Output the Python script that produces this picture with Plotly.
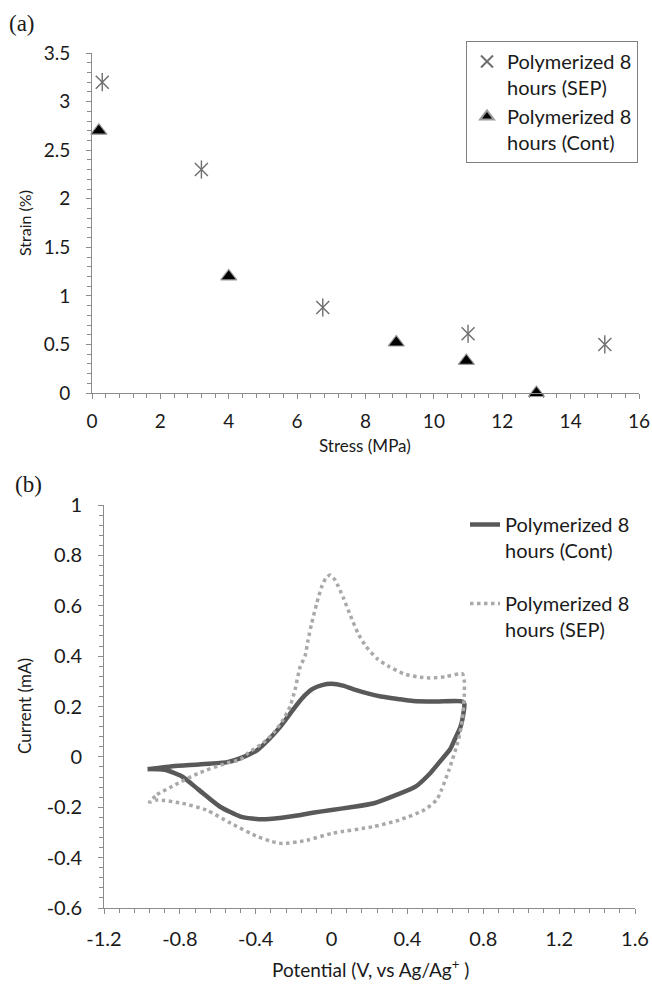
import plotly.graph_objects as go

# ---------------- data ----------------
# (a) stress-strain
sep_stress = [0.3, 3.2, 6.75, 11.0, 15.0]
sep_strain = [3.2, 2.3, 0.88, 0.61, 0.5]
cont_stress = [0.2, 4.0, 8.9, 10.95, 13.0]
cont_strain = [2.7, 1.2, 0.52, 0.33, 0.0]

# (b) cyclic voltammetry
cont_potential = [-0.97, -0.84, -0.70, -0.55, -0.48, -0.39, -0.33, -0.27, -0.22, -0.18,
                  -0.14, -0.10, -0.05, 0.0, 0.06, 0.13, 0.20, 0.26, 0.35, 0.43,
                  0.55, 0.69, 0.70, 0.69, 0.68, 0.65, 0.625, 0.58, 0.52, 0.445,
                  0.345, 0.224, 0.10, 0.0, -0.10, -0.217, -0.35, -0.42, -0.48, -0.59,
                  -0.70, -0.79, -0.88, -0.97]
cont_current = [-0.050, -0.037, -0.030, -0.021, -0.005, 0.028, 0.070, 0.120, 0.170, 0.210,
                0.245, 0.270, 0.285, 0.290, 0.283, 0.265, 0.250, 0.240, 0.230, 0.222,
                0.220, 0.220, 0.210, 0.150, 0.120, 0.070, 0.030, -0.011, -0.065, -0.117,
                -0.150, -0.184, -0.200, -0.211, -0.222, -0.237, -0.248, -0.245, -0.237, -0.197,
                -0.131, -0.077, -0.051, -0.048]

sep_potential = [-0.96, -0.92, -0.84, -0.70, -0.55, -0.48, -0.44, -0.36, -0.30, -0.256,
                 -0.219, -0.193, -0.166, -0.14, -0.124, -0.105, -0.078, -0.052, -0.03, -0.008,
                 0.02, 0.06, 0.10, 0.14, 0.18, 0.24, 0.30, 0.38, 0.45, 0.52,
                 0.60, 0.69, 0.70, 0.70, 0.69, 0.67, 0.62, 0.58, 0.555, 0.49,
                 0.36, 0.22, 0.0, -0.13, -0.26, -0.32, -0.39, -0.53, -0.66, -0.79,
                 -0.92, -0.96]
sep_current = [-0.180, -0.150, -0.117, -0.064, -0.024, -0.010, 0.016, 0.056, 0.100, 0.147,
               0.200, 0.266, 0.357, 0.400, 0.464, 0.530, 0.610, 0.676, 0.710, 0.722,
               0.700, 0.635, 0.560, 0.490, 0.440, 0.390, 0.360, 0.330, 0.318, 0.313,
               0.318, 0.330, 0.300, 0.250, 0.150, 0.070, -0.050, -0.130, -0.170, -0.210,
               -0.250, -0.277, -0.304, -0.331, -0.344, -0.335, -0.317, -0.264, -0.211, -0.184,
               -0.171, -0.180]

# tick labels (hyphen minus as in the original)
pot_ticks = [-1.2, -0.8, -0.4, 0, 0.4, 0.8, 1.2, 1.6]
pot_labels = ["-1.2", "-0.8", "-0.4", "0", "0.4", "0.8", "1.2", "1.6"]
cur_ticks = [-0.6, -0.4, -0.2, 0, 0.2, 0.4, 0.6, 0.8, 1.0]
cur_labels = ["-0.6", "-0.4", "-0.2", "0", "0.2", "0.4", "0.6", "0.8", "1"]

name_sep = "Polymerized 8<br>hours (SEP)"
name_cont = "Polymerized 8<br>hours (Cont)"

# ---------------- layout geometry ----------------
W, H = 652, 987
def px_x(p):
    return p / W
def px_y(p):
    return 1 - p / H

FONT = "Lato, 'Open Sans', sans-serif"
AXIS_COL = "#8c8c8c"
TXT = "#1a1a1a"
SEP_MARK = "#6e6e6e"

fig = go.Figure()

# (a)
fig.add_trace(go.Scatter(x=sep_stress, y=sep_strain, mode="markers", name=name_sep,
                         xaxis="x", yaxis="y", legend="legend", cliponaxis=False,
                         marker=dict(symbol="x-thin-open", size=13, color=SEP_MARK,
                                     line=dict(color=SEP_MARK, width=1.4))))
fig.add_trace(go.Scatter(x=sep_stress, y=sep_strain, mode="markers", showlegend=False,
                         xaxis="x", yaxis="y", cliponaxis=False, hoverinfo="skip",
                         marker=dict(symbol="line-ns-open", size=13, color=SEP_MARK,
                                     line=dict(color=SEP_MARK, width=1.4))))
fig.add_trace(go.Scatter(x=cont_stress, y=cont_strain, mode="markers", name=name_cont,
                         xaxis="x", yaxis="y", legend="legend", cliponaxis=False,
                         marker=dict(symbol="triangle-up", size=14, color="#000000",
                                     line=dict(color="#9a9a9a", width=1.2))))

# (b)
fig.add_trace(go.Scatter(x=cont_potential, y=cont_current, mode="lines", name=name_cont,
                         xaxis="x2", yaxis="y2", legend="legend2", legendgroup="c",
                         line=dict(color="#595959", width=4.5, shape="spline", smoothing=0.6)))
fig.add_trace(go.Scatter(x=sep_potential, y=sep_current, mode="lines", name=name_sep,
                         xaxis="x2", yaxis="y2", legend="legend2", legendgroup="s",
                         line=dict(color="#a9a9a9", width=3.5, dash="dot",
                                   shape="spline", smoothing=0.6)))

common_axis = dict(showgrid=False, zeroline=False, showline=True, linecolor=AXIS_COL,
                   linewidth=1, ticks="outside", tickcolor=AXIS_COL, ticklen=5,
                   tickwidth=1, automargin=False)

fig.update_layout(
    width=W, height=H,
    margin=dict(l=0, r=0, t=0, b=0),
    paper_bgcolor="white", plot_bgcolor="white",
    font=dict(family=FONT, color=TXT),
    xaxis=dict(common_axis, domain=[px_x(92), px_x(639)], range=[0, 16], dtick=2,
               anchor="y", ticklabelstandoff=6,
               tickfont=dict(family=FONT, size=19, color=TXT),
               minor=dict(dtick=0.4, ticks="outside", ticklen=4, tickcolor=AXIS_COL)),
    yaxis=dict(common_axis, domain=[px_y(393), px_y(53)], range=[0, 3.5], dtick=0.5,
               anchor="x", ticklabelstandoff=12,
               tickfont=dict(family=FONT, size=19, color=TXT),
               minor=dict(dtick=0.1, ticks="outside", ticklen=4, tickcolor=AXIS_COL)),
    xaxis2=dict(common_axis, domain=[px_x(104), px_x(635)], range=[-1.2, 1.6],
                tickvals=pot_ticks, ticktext=pot_labels, anchor="y2", ticklabelstandoff=8,
                tickfont=dict(family=FONT, size=20, color=TXT),
                minor=dict(dtick=0.08, tick0=-1.2, ticks="outside", ticklen=4,
                           tickcolor=AXIS_COL)),
    yaxis2=dict(common_axis, domain=[px_y(908), px_y(505)], range=[-0.6, 1.0],
                tickvals=cur_ticks, ticktext=cur_labels, anchor="x2", ticklabelstandoff=12,
                tickfont=dict(family=FONT, size=20, color=TXT),
                minor=dict(dtick=0.04, tick0=-0.6, ticks="outside", ticklen=4,
                           tickcolor=AXIS_COL)),
    legend=dict(x=px_x(466), y=px_y(41), xanchor="left", yanchor="top",
                bordercolor="#7f7f7f", borderwidth=1, bgcolor="white",
                font=dict(family=FONT, size=20, color=TXT), valign="top",
                tracegroupgap=0, itemsizing="constant"),
    legend2=dict(x=px_x(465), y=px_y(505), xanchor="left", yanchor="top",
                 borderwidth=0, bgcolor="rgba(0,0,0,0)",
                 font=dict(family=FONT, size=20, color=TXT), valign="top",
                 traceorder="grouped", tracegroupgap=24),
    showlegend=True,
)

annotations = [
    dict(text="(a)", x=px_x(7), y=px_y(23), xanchor="left", yanchor="middle",
         font=dict(family="Liberation Serif, serif", size=23, color=TXT)),
    dict(text="(b)", x=px_x(13), y=px_y(484), xanchor="left", yanchor="middle",
         font=dict(family="Liberation Serif, serif", size=23, color=TXT)),
    dict(text="Strain (%)", x=px_x(24), y=px_y(223), textangle=-90,
         xanchor="center", yanchor="middle", font=dict(family=FONT, size=16, color=TXT)),
    dict(text="Stress (MPa)", x=px_x(365), y=px_y(445), xanchor="center", yanchor="middle",
         font=dict(family=FONT, size=17, color=TXT)),
    dict(text="Current (mA)", x=px_x(24), y=px_y(706), textangle=-90,
         xanchor="center", yanchor="middle", font=dict(family=FONT, size=17, color=TXT)),
    dict(text="Potential (V, vs Ag/Ag<sup>+</sup> )", x=px_x(370), y=px_y(968),
         xanchor="center", yanchor="middle", font=dict(family=FONT, size=19, color=TXT)),
]
for a in annotations:
    a.update(xref="paper", yref="paper", showarrow=False)
fig.update_layout(annotations=annotations)

fig.write_html("out.html", config={"displayModeBar": False},
               post_script="document.body.style.margin='0';")
